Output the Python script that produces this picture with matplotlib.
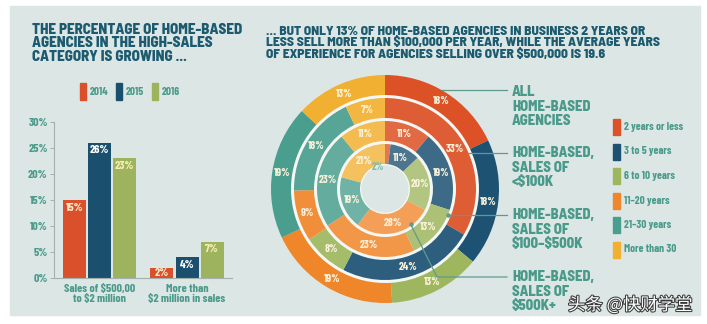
import numpy as np
import matplotlib
matplotlib.use('Agg')
import matplotlib.pyplot as plt
import matplotlib.patches as mpatches
import matplotlib.patheffects as pe
from matplotlib.colors import to_rgb

# bar chart data
years = ['2014', '2015', '2016']
sales_groups = ['Sales of $500,00\nto $2 million', 'More than\n$2 million in sales']
pct_2014 = [15, 2]
pct_2015 = [26, 4]
pct_2016 = [23, 7]
bar_ticks = [0, 5, 10, 15, 20, 25, 30]

# donut data, one list per ring (outer to inner)
experience = ['2 years or less', '3 to 5 years', '6 to 10 years',
              '11–20 years', '21–30 years', 'More than 30']
ring_names = ['ALL\nHOME-BASED\nAGENCIES',
              'HOME-BASED,\nSALES OF\n<$100K',
              'HOME-BASED,\nSALES OF\n\\$100–\\$500K',
              'HOME-BASED,\nSALES OF\n$500K+']
all_agencies = [18, 18, 13, 19, 19, 13]
sales_under_100k = [33, 24, 8, 9, 18, 7]
sales_100k_500k = [11, 19, 13, 23, 23, 11]
sales_500k_plus = [2, 11, 20, 28, 19, 21]

BG = '#dce7e5'
TITLE = '#1c5a70'
TEAL = '#4a9a8b'
LINE = '#5f9a8d'
exp_colors = ['#dc5126', '#1d5273', '#9eb75f', '#f0862a', '#4a9e8e', '#f2b033']
bar_colors = ['#d9502a', '#1b4f6e', '#9db35e']
bar_text = ['#fbe9c8', '#ffffff', '#f6efb2']
HEAD = ['Barlow Semi Condensed', 'DejaVu Sans']

plt.rcParams['font.family'] = ['Barlow Condensed', 'DejaVu Sans']
plt.rcParams['font.weight'] = 'bold'


def lighten(c, f):
    r, g, b = to_rgb(c)
    return (r + (1 - r) * f, g + (1 - g) * f, b + (1 - b) * f)


def Y(y):
    # pixel rows are given from the top
    return 324 - y


fig = plt.figure(figsize=(7.07, 3.24), dpi=100, facecolor='white')
cv = fig.add_axes([0, 0, 1, 1])
cv.axis('off')

cv.add_patch(mpatches.Rectangle((10, Y(315)), 690, 309, color=BG, zorder=0))

# titles
cv.text(32, Y(23), 'THE PERCENTAGE OF HOME-BASED\nAGENCIES IN THE HIGH-SALES\nCATEGORY IS GROWING ...',
        fontsize=10.8, family=HEAD, weight=800, color=TITLE, va='top', ha='left',
        linespacing=0.95)
cv.text(266, Y(26), '... BUT ONLY 13% OF HOME-BASED AGENCIES IN BUSINESS 2 YEARS OR\n'
        'LESS SELL MORE THAN $100,000 PER YEAR, WHILE THE AVERAGE YEARS\n'
        'OF EXPERIENCE FOR AGENCIES SELLING OVER $500,000 IS 19.6',
        fontsize=9.7, family=HEAD, weight=800, color=TITLE, va='top', ha='left',
        linespacing=0.95)

# year legend for bars
for i, yr in enumerate(years):
    x0 = 80 + i * 36
    cv.add_patch(mpatches.Rectangle((x0, Y(100)), 6, 17, color=bar_colors[i], zorder=2))
    cv.text(x0 + 10, Y(92), yr, fontsize=8, color=TEAL, va='center', ha='left')

# donut rings
cx, cy = 385, Y(189)
radii = [114, 91, 68, 45]
width = 20
rings = [all_agencies, sales_under_100k, sales_100k_500k, sales_500k_plus]

cv.add_patch(mpatches.Circle((cx, cy), 95, color='#f4f7f3', zorder=1))
cv.add_patch(mpatches.Circle((cx, cy), 23, color=BG, zorder=1.5))

for i, vals in enumerate(rings):
    cols = [lighten(c, 0.07 * i) for c in exp_colors]
    wedges, _ = cv.pie(vals, radius=radii[i], center=(cx, cy), startangle=90,
                       counterclock=False, colors=cols, normalize=True,
                       wedgeprops=dict(width=width, linewidth=0))
    for w in wedges:
        w.set_zorder(2)
    for w, v in zip(wedges, vals):
        mid = np.deg2rad((w.theta1 + w.theta2) / 2)
        if v < 4:
            a = np.deg2rad(w.theta1 + 25)
            r = radii[i] - width - 2
            cv.text(cx + r * np.cos(a), cy + r * np.sin(a), f'{v}%', fontsize=7.5,
                    color='#7cbdb2', ha='center', va='center', zorder=4)
            continue
        r = radii[i] - width / 2
        cv.text(cx + r * np.cos(mid), cy + r * np.sin(mid), f'{v}%', fontsize=8,
                color='#fbf3dc', ha='center', va='center', zorder=4)

# leader lines and ring names
label_tops = [85, 146, 208, 270]
line_rows = [90, 153, 215, 277]
for i, name in enumerate(ring_names):
    cv.text(512, Y(label_tops[i]), name, fontsize=10.5, family=HEAD, weight=800,
            color=TEAL, va='top', ha='left', linespacing=1.05)
for i in range(3):
    dy = Y(line_rows[i]) - cy
    x_end = cx + np.sqrt(radii[i] ** 2 - dy ** 2)
    cv.plot([x_end, 507], [Y(line_rows[i])] * 2, color=LINE, lw=0.9, zorder=5)
dy3 = Y(line_rows[2]) - cy
cv.plot([cx + np.sqrt(radii[2] ** 2 - dy3 ** 2)], [Y(line_rows[2])],
        'o', ms=2.2, color=LINE, zorder=5)
a4 = np.deg2rad(54)
p4 = (cx + radii[3] * np.cos(a4) * 0.97, cy - radii[3] * np.sin(a4) * 0.97)
cv.plot([p4[0], 437, 507], [p4[1], Y(277), Y(277)], color=LINE, lw=0.9, zorder=5)
cv.plot([p4[0]], [p4[1]], 'o', ms=2.2, color=LINE, zorder=5)

# experience legend
for i, lab in enumerate(experience):
    yc = 127 + i * 24.5
    cv.add_patch(mpatches.Rectangle((613, Y(yc + 8)), 7, 16, color=exp_colors[i], zorder=2))
    cv.text(624, Y(yc), lab, fontsize=8, color=TEAL, va='center', ha='left')

cv.text(568, Y(305), '头条 @快财学堂', fontsize=12.5, color='white', va='center', ha='left',
        family=['Noto Sans CJK SC', 'DejaVu Sans'], weight='normal', zorder=6,
        path_effects=[pe.withStroke(linewidth=1.5, foreground='#3a3a3a')])

cv.set_xlim(0, 707)
cv.set_ylim(0, 324)

# grouped bars
bx = fig.add_axes([54 / 707, 46 / 324, 178 / 707, 156 / 324])
bx.patch.set_alpha(0)
x = np.arange(len(sales_groups))
bw = 0.263
for j, series in enumerate([pct_2014, pct_2015, pct_2016]):
    xs = x + (j - 1) * 0.286
    bx.bar(xs, series, width=bw, color=bar_colors[j], zorder=2)
    for xi, v in zip(xs, series):
        if v > 3:
            bx.text(xi, v - 0.5, f'{v}%', ha='center', va='top', fontsize=8.5,
                    color=bar_text[j])
        else:
            bx.text(xi, v / 2, f'{v}%', ha='center', va='center', fontsize=8.5,
                    color=bar_text[j])

bx.set_xlim(-0.52, 1.514)
bx.set_ylim(0, 30)
bx.set_yticks(bar_ticks)
bx.set_yticklabels([f'{t}%' for t in bar_ticks], color=TEAL, fontsize=8.5)
bx.set_xticks(x)
bx.set_xticklabels(sales_groups, color=TEAL, fontsize=8.5, linespacing=1.0)
bx.tick_params(axis='x', length=0, pad=4)
bx.tick_params(axis='y', length=3, width=0.7, color='#a3b0ae', pad=1.5)
for s in ['top', 'right']:
    bx.spines[s].set_visible(False)
for s in ['left', 'bottom']:
    bx.spines[s].set_color('#a3b0ae')
    bx.spines[s].set_linewidth(0.8)

fig.savefig('out.png', dpi=100, facecolor='white')
